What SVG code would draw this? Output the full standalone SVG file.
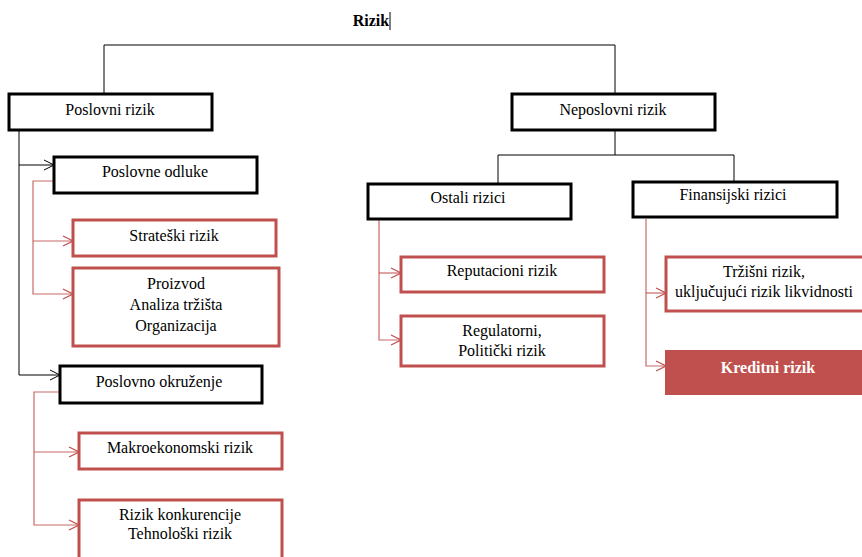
<svg xmlns="http://www.w3.org/2000/svg" width="862" height="557" viewBox="0 0 862 557">
<defs>
<style>
text{font-family:'Liberation Serif','Times New Roman','DejaVu Serif',serif;font-size:16px;fill:#000;text-anchor:middle}
.blk{fill:#fff;stroke:#000;stroke-width:3}
.red{fill:#fff;stroke:#C0504D;stroke-width:3}
.redf{fill:#C0504D;stroke:#C0504D;stroke-width:2}
.cb{fill:none;stroke:#000;stroke-width:1}
.cr{fill:none;stroke:#C0504D;stroke-width:1.2;stroke-opacity:0.85}
</style>
<marker id="ab" markerWidth="12" markerHeight="12" refX="11" refY="6" orient="auto" markerUnits="userSpaceOnUse"><path d="M1,1 L11,6 L1,11" fill="none" stroke="#000" stroke-width="1"/></marker>
<marker id="ar" markerWidth="12" markerHeight="12" refX="11" refY="6" orient="auto" markerUnits="userSpaceOnUse"><path d="M1,1 L11,6 L1,11" fill="none" stroke="#C0504D" stroke-width="1.2"/></marker>
</defs>
<rect width="862" height="557" fill="#fff"/>
<g id="title"><text x="371" y="26" font-family="Liberation Serif, serif" style="font-weight:bold">Rizik</text><line x1="390" y1="12" x2="390" y2="30" stroke="#000" stroke-width="1"/></g>
<g id="connectors">
<path class="cb" d="M104,93 V45 H615 V93"/>
<path class="cb" d="M615,130 V155 M498,183 V155 H734 V182"/>
<path class="cb" d="M19,130 V375 H60" marker-end="url(#ab)"/>
<path class="cb" d="M19,165 H54" marker-end="url(#ab)"/>
<path class="cr" d="M54,181 H33 V294 H73" marker-end="url(#ar)"/>
<path class="cr" d="M33,241 H73" marker-end="url(#ar)"/>
<path class="cr" d="M60,392 H34 V525 H79" marker-end="url(#ar)"/>
<path class="cr" d="M34,452 H79" marker-end="url(#ar)"/>
<path class="cr" d="M379,219 V340 H401" marker-end="url(#ar)"/>
<path class="cr" d="M379,273 H401" marker-end="url(#ar)"/>
<path class="cr" d="M646,219 V366 H666" marker-end="url(#ar)"/>
<path class="cr" d="M646,293 H666" marker-end="url(#ar)"/>
</g>
<g id="poslovni"><rect class="blk" x="9" y="94" width="203" height="36"/><text x="110" y="115">Poslovni rizik</text></g>
<g id="neposlovni"><rect class="blk" x="512" y="94" width="203" height="36"/><text x="613" y="115">Neposlovni rizik</text></g>
<g id="odluke"><rect class="blk" x="54" y="157" width="203" height="36"/><text x="155" y="177">Poslovne odluke</text></g>
<g id="strateski"><rect class="red" x="73" y="220" width="203" height="36"/><text x="174" y="241">Strateški rizik</text></g>
<g id="proizvod"><rect class="red" x="73" y="268" width="206" height="78"/><text x="176" y="289">Proizvod</text><text x="176" y="310">Analiza tržišta</text><text x="176" y="331">Organizacija</text></g>
<g id="okruzenje"><rect class="blk" x="60" y="366" width="202" height="37"/><text x="159" y="387">Poslovno okruženje</text></g>
<g id="makro"><rect class="red" x="79" y="433" width="203" height="36"/><text x="180" y="453">Makroekonomski rizik</text></g>
<g id="konkurencija"><rect class="red" x="79" y="500" width="203" height="70"/><text x="180" y="520">Rizik konkurencije</text><text x="180" y="539">Tehnološki rizik</text></g>
<g id="ostali"><rect class="blk" x="368" y="184" width="203" height="35"/><text x="468" y="203">Ostali rizici</text></g>
<g id="finansijski"><rect class="blk" x="633" y="182" width="204" height="35"/><text x="733" y="200">Finansijski rizici</text></g>
<g id="reputacioni"><rect class="red" x="401" y="257" width="203" height="35"/><text x="502" y="276">Reputacioni rizik</text></g>
<g id="regulatorni"><rect class="red" x="401" y="316" width="203" height="50"/><text x="502" y="336">Regulatorni,</text><text x="502" y="356">Politički rizik</text></g>
<g id="trzisni"><rect class="red" x="666" y="257" width="205" height="54"/><text x="764" y="277">Tržišni rizik,</text><text x="764" y="297">uključujući rizik likvidnosti</text></g>
<g id="kreditni"><rect class="redf" x="666" y="351" width="205" height="43"/><text x="768" y="373" style="fill:#fff;font-weight:bold">Kreditni rizik</text></g>
</svg>
